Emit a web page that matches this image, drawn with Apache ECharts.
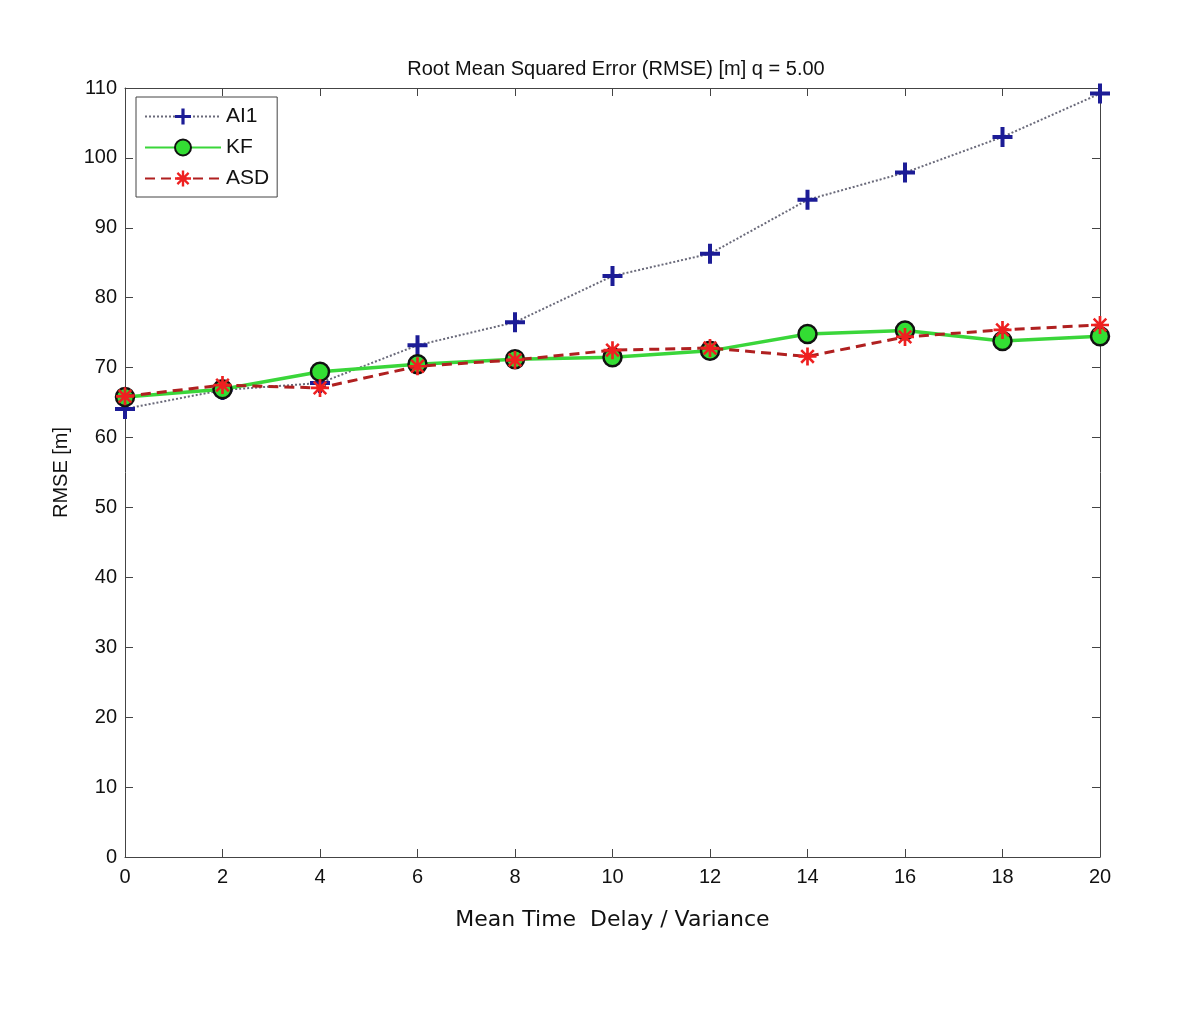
<!DOCTYPE html>
<html><head><meta charset="utf-8">
<script src="https://cdn.jsdelivr.net/npm/echarts@6/dist/echarts.min.js"></script>
<style>html,body{margin:0;padding:0;background:#fff}#c{width:1200px;height:1016px}</style>
</head><body><div id="c"></div>
<script>
const xValues = [0,2,4,6,8,10,12,14,16,18,20];
const ai1 = [64.1,66.8,67.8,73.2,76.5,83.1,86.3,94.0,97.9,103.0,109.2];
const kf  = [65.8,66.9,69.4,70.5,71.2,71.5,72.4,74.8,75.3,73.8,74.5];
const asd = [65.9,67.5,67.1,70.2,71.1,72.5,72.8,71.6,74.4,75.4,76.1];
const titleText = 'Root Mean Squared Error (RMSE) [m] q = 5.00';
const xName = 'Mean Time  Delay / Variance';
const yName = 'RMSE [m]';

const plusPath = 'path://M8,0 h4 v8 h8 v4 h-8 v8 h-4 v-8 h-8 v-4 h8z';
const starPath = 'path://M0,8.5 h20 v3 h-20z M8.5,0 h3 v20 h-3z M4,2 L18,16 L16,18 L2,4z M16,2 L18,4 L4,18 L2,16z';

const pair = arr => xValues.map((x,i)=>[x,arr[i]]);
const chart = echarts.init(document.getElementById('c'));
const axisColor = '#444';
const font = 'Liberation Sans, Arial, sans-serif';
chart.setOption({
  backgroundColor:'#fff',
  animation:false,
  title:{text:titleText,left:611,textAlign:'center',top:54,
    textStyle:{fontFamily:font,fontSize:20,fontWeight:'normal',color:'#111'}},
  legend:{orient:'vertical',left:136,top:97,itemWidth:76,itemHeight:20,itemGap:10,
    padding:[9,8,8,8],borderColor:'#444',borderWidth:1,backgroundColor:'#fff',
    textStyle:{fontFamily:font,fontSize:21,color:'#111'},
    data:['AI1','KF','ASD']},
  grid:{left:125,right:100,top:88,bottom:159},
  xAxis:[{type:'value',min:0,max:20,interval:2,
    name:xName,nameLocation:'middle',nameGap:52,
    nameTextStyle:{fontFamily:'DejaVu Sans, sans-serif',fontSize:22,color:'#111'},
    axisLine:{onZero:false,lineStyle:{color:axisColor,width:1}},
    axisTick:{inside:true,length:8,lineStyle:{color:axisColor}},
    axisLabel:{fontFamily:font,fontSize:20,color:'#111',margin:10},
    splitLine:{show:false}},
   {type:'value',position:'top',min:0,max:20,interval:2,
    axisLine:{onZero:false,lineStyle:{color:axisColor,width:1}},
    axisTick:{inside:true,length:8,lineStyle:{color:axisColor}},
    axisLabel:{show:false},splitLine:{show:false}}],
  yAxis:[{type:'value',min:0,max:110,interval:10,
    name:yName,nameLocation:'middle',nameGap:54,nameRotate:90,
    nameTextStyle:{fontFamily:font,fontSize:20,color:'#111'},
    axisLine:{show:true,onZero:false,lineStyle:{color:axisColor,width:1}},
    axisTick:{show:true,inside:true,length:8,lineStyle:{color:axisColor}},
    axisLabel:{fontFamily:font,fontSize:20,color:'#111',margin:8},
    splitLine:{show:false}},
   {type:'value',position:'right',min:0,max:110,interval:10,
    axisLine:{show:true,onZero:false,lineStyle:{color:axisColor,width:1}},
    axisTick:{show:true,inside:true,length:8,lineStyle:{color:axisColor}},
    axisLabel:{show:false},splitLine:{show:false}}],
  series:[
    {name:'AI1',type:'line',data:pair(ai1),symbol:plusPath,symbolSize:20,
     lineStyle:{color:'#6a6a7a',width:2,type:[2,2]},
     itemStyle:{color:'#1c1c96',borderWidth:0},z:3},
    {name:'KF',type:'line',data:pair(kf),symbol:'circle',symbolSize:18,
     lineStyle:{color:'#3ad63a',width:3.5,type:'solid'},
     itemStyle:{color:'#33dd33',borderColor:'#111',borderWidth:2.5},z:4},
    {name:'ASD',type:'line',data:pair(asd),symbol:starPath,symbolSize:18,
     lineStyle:{color:'#b02020',width:3,type:[10,6]},
     itemStyle:{color:'#ee2020',borderWidth:0},z:5}
  ]
});
</script></body></html>
